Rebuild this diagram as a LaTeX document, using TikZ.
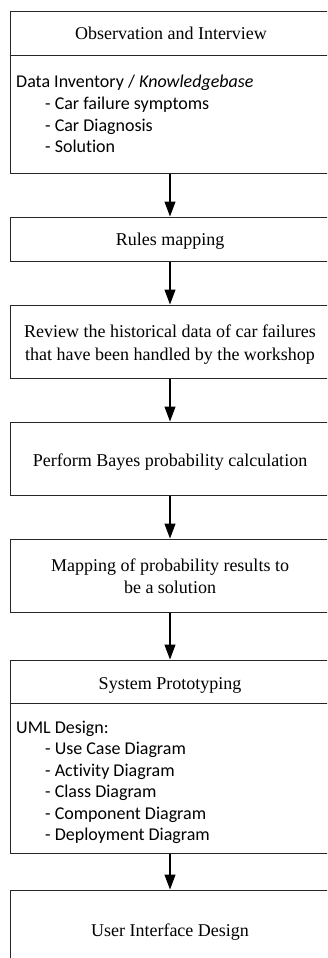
\documentclass[tikz,border=0pt]{standalone}
\usepackage{fontspec}
\setmainfont{Liberation Serif}
\newfontfamily\calfont[Ligatures={NoCommon,NoRare,NoContextual},RawFeature={-liga;-dlig;-clig}]{Carlito}
\usetikzlibrary{arrows.meta}
\tikzset{
  box/.style={draw=black!85, line width=1pt, minimum width=320pt, inner sep=0pt, fill=white},
  sertext/.style={anchor=base, inner sep=0pt, font=\fontsize{18}{21.5}\selectfont},
  santext/.style={anchor=base west, inner sep=0pt, font=\calfont\fontsize{18}{21.5}\selectfont},
  arr/.style={draw=black, line width=1.1pt, -{Triangle[length=15pt,width=11pt]}},
  divider/.style={draw=black!85, line width=1pt}
}
\begin{document}
\begin{tikzpicture}[x=1pt,y=-1pt]
\useasboundingbox (0,0) rectangle (327,958);
\clip (0,0) rectangle (327,958);
% boxes
\node[box, minimum height=161pt] (b1) at (170,92.5) {};
\node[box, minimum height=44pt] (b2) at (170,239) {};
\node[box, minimum height=73pt] (b3) at (170,341.5) {};
\node[box, minimum height=73pt] (b4) at (170,458.5) {};
\node[box, minimum height=73pt] (b5) at (170,575.5) {};
\node[box, minimum height=193pt] (b6) at (170,756.5) {};
\node[box, minimum height=80pt] (b7) at (170,930) {};
% dividers
\coordinate (d1) at (0,55.7);
\coordinate (d6) at (0,703);
\draw[divider] (b1.west |- d1) -- (b1.east |- d1);
\draw[divider] (b6.west |- d6) -- (b6.east |- d6);
% texts
\node[sertext] (t1) at (171,39.5) {Observation and Interview};
\node[santext] (k0) at (16,88) {Data Inventory / \textit{Knowledgebase}};
\node[santext] (k1) at (45,109.5) {- Car failure symptoms};
\node[santext] (k2) at (45,131) {- Car Diagnosis};
\node[santext] (k3) at (45,152.5) {- Solution};
\node[sertext] (t2) at (170,245.5) {Rules mapping};
\node[sertext] (t3a) at (170,337.5) {Review the historical data of car failures};
\node[sertext] (t3b) at (170,360) {that have been handled by the workshop};
\node[sertext] (t4) at (170,466) {Perform Bayes probability calculation};
\node[sertext] (t5a) at (170,571.5) {Mapping of probability results to};
\node[sertext] (t5b) at (170,593) {be a solution};
\node[sertext] (t6) at (170,689.5) {System Prototyping};
\node[santext] (u0) at (16,733) {UML Design:};
\node[santext] (u1) at (45,754.5) {- Use Case Diagram};
\node[santext] (u2) at (45,776) {- Activity Diagram};
\node[santext] (u3) at (45,797.5) {- Class Diagram};
\node[santext] (u4) at (45,819) {- Component Diagram};
\node[santext] (u5) at (45,840.5) {- Deployment Diagram};
\node[sertext] (t7) at (170,936) {User Interface Design};
% arrows
\draw[arr] (b1.south) -- (b2.north);
\draw[arr] (b2.south) -- (b3.north);
\draw[arr] (b3.south) -- (b4.north);
\draw[arr] (b4.south) -- (b5.north);
\draw[arr] (b5.south) -- (b6.north);
\draw[arr] (b6.south) -- (b7.north);
\end{tikzpicture}
\end{document}
